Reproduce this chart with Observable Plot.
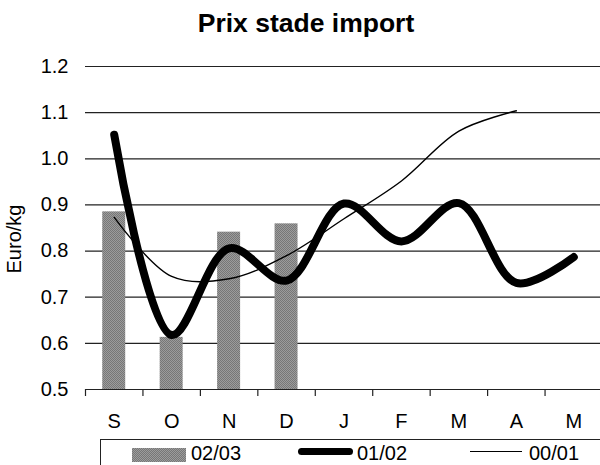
<!DOCTYPE html>
<html>
<head>
<meta charset="utf-8">
<script src="https://cdn.jsdelivr.net/npm/d3@7"></script>
<script src="https://cdn.jsdelivr.net/npm/@observablehq/plot@0.6"></script>
<style>
  body { margin: 0; background: #fff; font-family: "Liberation Sans", Arial, sans-serif; color: #000; }
  #chart { position: relative; width: 600px; height: 465px; overflow: hidden; }
  #title { position: absolute; left: 0; top: 1px; width: 612px; height: 44px; line-height: 44px;
           text-align: center; font-weight: bold; font-size: 26.5px; }
  #ylabel { position: absolute; left: -36px; top: 228px; width: 100px; height: 22px; line-height: 22px;
            text-align: center; font-size: 20px; transform: rotate(-90deg); }
  #plot { position: absolute; left: 0; top: 44px; }
  #legend { position: absolute; left: 100px; top: 439px; width: 540px; height: 40px; border: 1px solid #222; }
  #legend .sw, #legend .lb { position: absolute; }
  #legend .lb { font-size: 20px; line-height: 20px; top: 3px; }
  .dither { background-color: #888;
            background-image: repeating-conic-gradient(#777 0 25%, #9c9c9c 0 50%);
            background-size: 2px 2px; }
</style>
</head>
<body>
<div id="chart">
  <div id="title">Prix stade import</div>
  <div id="plot"></div>
  <div id="ylabel">Euro/kg</div>
  <div id="legend">
    <div class="sw dither" style="left:31px;top:8px;width:54px;height:14px"></div>
    <div class="lb" id="lb0" style="left:90px"></div>
    <div class="sw" style="left:197px;top:8px;width:55px;height:7px;background:#000;border-radius:3.5px"></div>
    <div class="lb" id="lb1" style="left:256px"></div>
    <div class="sw" style="left:369px;top:11px;width:52px;height:1.4px;background:#000"></div>
    <div class="lb" id="lb2" style="left:428px"></div>
  </div>
</div>
<script>
// Months of the season, September to May
const months = ["S", "O", "N", "D", "J", "F", "M", "A", "M"];
const yTicks = [0.5, 0.6, 0.7, 0.8, 0.9, 1.0, 1.1, 1.2];

// Import-stage prices, euro per kg, one value per month
const seasons = ["02/03", "01/02", "00/01"];
const prix0203 = [0.885, 0.613, 0.841, 0.859];
const prix0102 = [1.052, 0.618, 0.806, 0.736, 0.903, 0.821, 0.904, 0.731, 0.787];
const prix0001 = [0.873, 0.745, 0.740, 0.790, 0.870, 0.952, 1.060, 1.104];

const toRows = (values) => values.map((v, i) => ({i, v}));
const bars = toRows(prix0203);
const thick = toRows(prix0102);
const thin = toRows(prix0001);

// month boundaries for the axis tick marks
const bounds = d3.range(months.length + 1).map(i => i - 0.5);
const barHalf = 0.2; // bars fill 40% of each month slot

const svg = Plot.plot({
  width: 600,
  height: 395,
  marginTop: 22,
  marginBottom: 50,
  marginLeft: 85,
  marginRight: 0,
  style: {fontFamily: "'Liberation Sans', Arial, sans-serif", color: "#000", background: "#fff"},
  x: {type: "linear", domain: [-0.5, months.length - 0.5], range: [85, 602]},
  y: {domain: [0.5, 1.2]},
  marks: [
    Plot.ruleY(yTicks, {stroke: "#222", strokeWidth: 1.2}),
    Plot.rectY(bars, {x1: d => d.i - barHalf, x2: d => d.i + barHalf, y1: yTicks[0], y2: "v", fill: "url(#dither)"}),
    Plot.line(thin, {x: "i", y: "v", curve: "catmull-rom", stroke: "#000", strokeWidth: 1.4}),
    Plot.line(thick, {x: "i", y: "v", curve: "catmull-rom", stroke: "#000", strokeWidth: 8,
                      strokeLinecap: "round", strokeLinejoin: "round"}),
    Plot.axisY({ticks: yTicks, tickSize: 0, tickPadding: 17, tickFormat: d3.format(".1f"),
                fontSize: 20, label: null}),
    Plot.axisX({ticks: bounds, tickSize: 7, tickFormat: () => "", stroke: "#222", strokeWidth: 1.2, label: null}),
    Plot.axisX({ticks: d3.range(months.length), tickSize: 0, tickPadding: 24,
                tickFormat: i => months[i], fontSize: 20, label: null})
  ]
});

// dithered grey fill used by the 02/03 bars
const defs = d3.select(svg).insert("defs", ":first-child");
const pat = defs.append("pattern").attr("id", "dither").attr("patternUnits", "userSpaceOnUse")
  .attr("width", 2).attr("height", 2);
pat.append("rect").attr("width", 2).attr("height", 2).attr("fill", "#9c9c9c");
pat.append("rect").attr("width", 1).attr("height", 1).attr("fill", "#777");
pat.append("rect").attr("x", 1).attr("y", 1).attr("width", 1).attr("height", 1).attr("fill", "#777");

document.getElementById("plot").appendChild(svg);
seasons.forEach((s, k) => { document.getElementById("lb" + k).textContent = s; });
</script>
</body>
</html>
